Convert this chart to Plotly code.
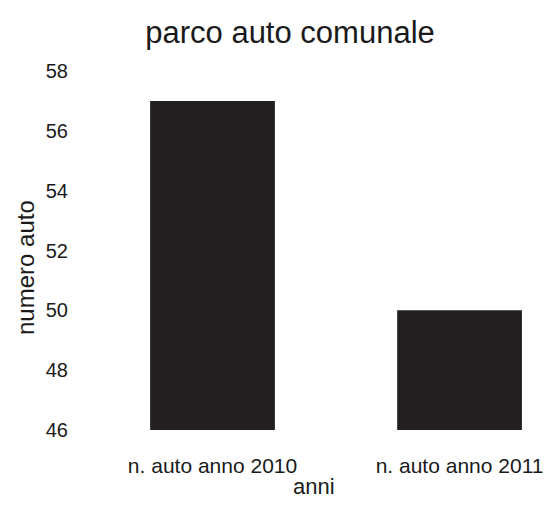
import plotly.graph_objects as go

categories = ["n. auto anno 2010", "n. auto anno 2011"]
values = [57, 50]
y_ticks = [46, 48, 50, 52, 54, 56, 58]
y_min, y_max = 46, 58

W, H = 546, 511
L, R, T, B = 89, 0, 71, 81
PW, PH = W - L - R, H - T - B

def px(x):
    return (x - L) / PW

def py(y):
    return (H - B - y) / PH

fig = go.Figure(go.Bar(
    x=categories, y=[v - y_min for v in values], base=y_min,
    marker=dict(color="#231f20", line=dict(width=0)),
    width=0.505,
))
fig.update_layout(
    width=W, height=H,
    paper_bgcolor="white", plot_bgcolor="white",
    margin=dict(l=L, r=R, t=T, b=B, autoexpand=False),
    font=dict(family="Liberation Sans, Arial, sans-serif", color="#1a1a1a", size=20),
    title=dict(text="parco auto comunale", x=290 / W, xanchor="center",
               y=1 - 32 / H, yanchor="middle", font=dict(size=31)),
    showlegend=False,
    annotations=[
        dict(text="anni", xref="paper", yref="paper", x=px(314), y=py(486),
             xanchor="center", yanchor="middle", showarrow=False, font=dict(size=22)),
        dict(text="numero auto", xref="paper", yref="paper", x=px(25), y=py(268),
             xanchor="center", yanchor="middle", textangle=-90, showarrow=False,
             font=dict(size=24)),
    ],
)
fig.update_xaxes(range=[-0.5, 1.35], showgrid=False, showline=False, zeroline=False,
                 automargin=False, ticks="", ticklabelstandoff=21, tickfont=dict(size=21))
fig.update_yaxes(range=[y_min, y_max], tickvals=y_ticks, showgrid=False, showline=False,
                 zeroline=False, automargin=False, ticks="", ticklabelstandoff=20,
                 tickfont=dict(size=20))
fig.write_html("out.html", config={"displayModeBar": False},
               post_script="document.body.style.margin='0';")
